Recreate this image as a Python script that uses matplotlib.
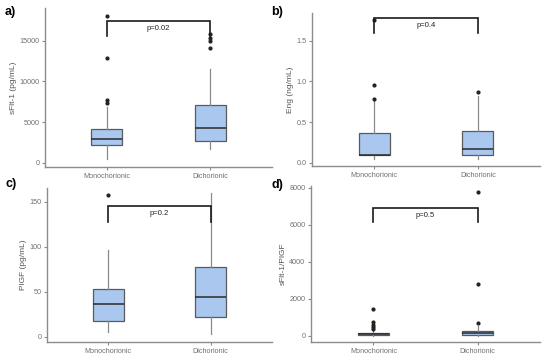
import numpy as np
import matplotlib
matplotlib.use("Agg")
import matplotlib.pyplot as plt

plt.rcParams["font.family"] = ["Liberation Sans", "DejaVu Sans"]

groups = ["Monochorionic", "Dichorionic"]

# box stats per panel: (whislo, q1, med, q3, whishi, outliers)
sflt_mono = (450, 2160, 2890, 4110, 6870, [7350, 7770, 12840, 18000])
sflt_di = (1670, 2720, 4230, 7110, 11550, [14060, 15000, 15280, 15800])
eng_mono = (0.05, 0.10, 0.10, 0.37, 0.76, [0.78, 0.95, 1.75])
eng_di = (0.05, 0.10, 0.17, 0.39, 0.82, [0.87])
plgf_mono = (5, 17.6, 36.2, 53, 96, [157.5])
plgf_di = (3, 21.7, 44, 77.7, 159, [])
ratio_mono = (15, 40, 90, 150, 300, [365, 470, 600, 745, 1450])
ratio_di = (20, 55, 145, 270, 545, [720, 2810, 7770])

panels = [
    dict(tag="a)", ylab="sFlt-1 (pg/mL)", data=(sflt_mono, sflt_di),
         yticks=[0, 5000, 10000, 15000], ylim=(-500, 19000),
         bracket=(17360, 15600), p="p=0.02", rect=(45, 8, 272, 167),
         tagpos=(5, 12)),
    dict(tag="b)", ylab="Eng (ng/mL)", data=(eng_mono, eng_di),
         yticks=[0.0, 0.5, 1.0, 1.5], ylim=(-0.04, 1.84),
         bracket=(1.78, 1.60), p="p=0.4", rect=(312, 13, 540, 166),
         fmt="{:.1f}", tagpos=(271, 12)),
    dict(tag="c)", ylab="PlGF (pg/mL)", data=(plgf_mono, plgf_di),
         yticks=[0, 50, 100, 150], ylim=(-6, 165),
         bracket=(144.5, 127.7), p="p=0.2", rect=(47, 188, 272, 342),
         tagpos=(5, 184)),
    dict(tag="d)", ylab="sFlt-1/PlGF", data=(ratio_mono, ratio_di),
         yticks=[0, 2000, 4000, 6000, 8000], ylim=(-330, 8100),
         bracket=(6910, 6130), p="p=0.5", rect=(311, 186, 540, 342),
         tagpos=(271, 185)),
]

W, H = 550, 363
fig = plt.figure(figsize=(5.5, 3.63), dpi=100)
axcol = "#8c8c8c"
txtcol = "#707070"

for pn in panels:
    l, t, r, b = pn["rect"]
    ax = fig.add_axes([l / W, 1 - b / H, (r - l) / W, (b - t) / H])
    stats = []
    for g, d in zip(groups, pn["data"]):
        stats.append(dict(label=g, whislo=d[0], q1=d[1], med=d[2], q3=d[3],
                          whishi=d[4], fliers=d[5]))
    ax.bxp(stats, positions=[1, 2], widths=0.3, patch_artist=True,
           showcaps=False,
           boxprops=dict(facecolor="#a9c7ef", edgecolor="#5a5a5a", lw=0.9),
           medianprops=dict(color="#2a2a2a", lw=1.1),
           whiskerprops=dict(color="#8a8a8a", lw=0.9),
           flierprops=dict(marker="o", markersize=2, markerfacecolor="#222222",
                           markeredgecolor="#222222"))
    ax.set_xlim(0.4, 2.6)
    ax.set_ylim(*pn["ylim"])
    ax.set_yticks(pn["yticks"])
    if "fmt" in pn:
        ax.set_yticklabels([pn["fmt"].format(v) for v in pn["yticks"]])
    ax.set_xticks([1, 2])
    ax.set_xticklabels(groups)
    for s in ["top", "right"]:
        ax.spines[s].set_visible(False)
    for s in ["left", "bottom"]:
        ax.spines[s].set_color(axcol)
        ax.spines[s].set_linewidth(1.0)
    ax.tick_params(colors=axcol, labelcolor=txtcol, labelsize=5.2, length=2,
                   width=0.8, pad=2)
    ax.set_ylabel(pn["ylab"], fontsize=6, color="#555555", labelpad=2)
    top, bot = pn["bracket"]
    ax.plot([1, 1, 2, 2], [bot, top, top, bot], color="#1a1a1a", lw=1.2,
            solid_joinstyle="miter")
    ax.text(1.5, top - (top - bot) * 0.25, pn["p"], ha="center", va="top",
            fontsize=5.5, color="#222222")
    ax.patch.set_alpha(0)

    tx, ty = pn["tagpos"]
    fig.text(tx / W, 1 - ty / H, pn["tag"], fontsize=9, fontweight="bold",
             ha="left", va="center")

fig.savefig("out.png", dpi=100, facecolor="white")
